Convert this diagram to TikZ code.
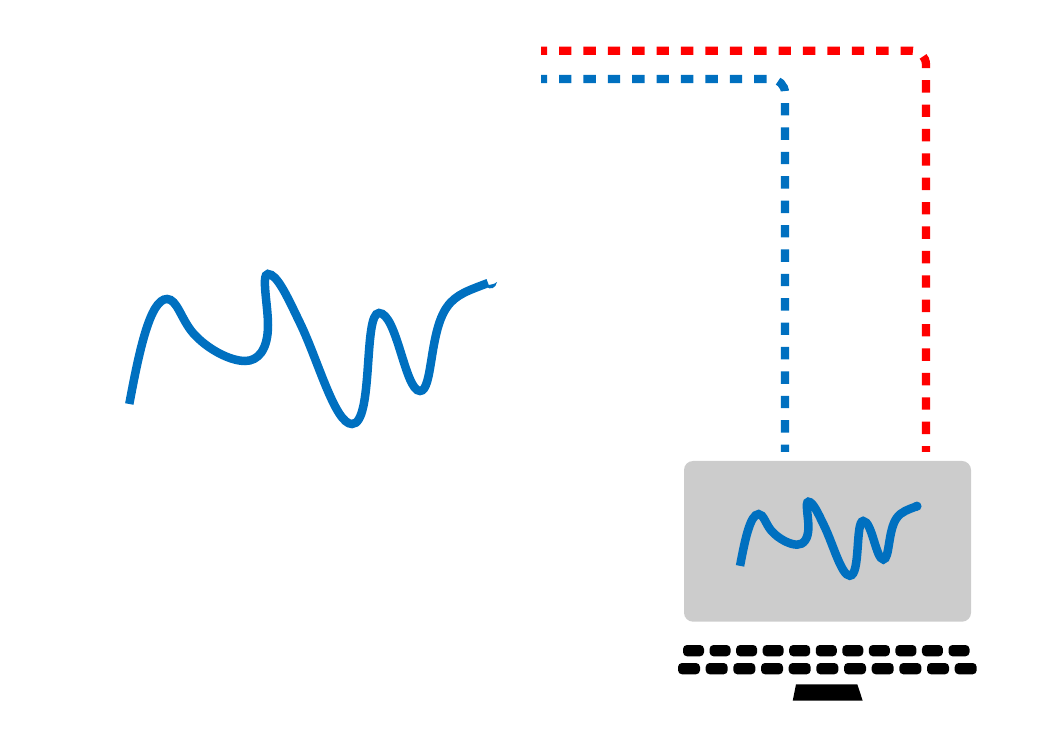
\documentclass[tikz,border=0pt]{standalone}
\definecolor{inkblue}{HTML}{0070C0}
\definecolor{screengray}{HTML}{CCCCCC}
\newcommand{\inkwave}{(129.3,404) .. controls (139,352) and (150,299) .. (167,299) .. controls (177,299) and (181,319) .. (193,333) .. controls (207,349) and (230,361) .. (245,361) .. controls (258,361) and (268,350) .. (268,325) .. controls (268,305) and (261,274) .. (268,274) .. controls (277,274) and (287,296) .. (300,323) .. controls (318,360) and (335,424) .. (352,424) .. controls (374,424) and (363,313) .. (379,313) .. controls (397,313) and (405,391) .. (420,391) .. controls (433,391) and (429,332) .. (447,307) .. controls (456,294) and (470,290) .. (488,283)}
\begin{document}
\begin{tikzpicture}[x=0.02cm,y=-0.02cm,
  wire/.style={line width=0.165cm,dash pattern=on 0.248cm off 0.24cm,dash phase=0.128cm,rounded corners=0.28cm},
  ink/.style={inkblue,line width=0.17cm},
  keycap/.style={fill=black,rounded corners=0.08cm}]
\useasboundingbox (0,0) rectangle (1044,742);
% big stroke
\draw[ink] \inkwave;
\fill[inkblue] (486,286) .. controls (490,284) and (494,285) .. (497,282) .. controls (496,288) and (490,291) .. (486,286);
% wires
\draw[wire,red] (541,50.7) -- (926,50.7) -- (926,452);
\draw[wire,inkblue] (541,79) -- (785,79) -- (785,452);
% screen
\fill[screengray,rounded corners=0.18cm] (684,461) rectangle (971,621.7);
\begin{scope}[shift={(676.3,366.7)},scale=0.493]
\draw[ink] \inkwave;
\fill[inkblue] (488,283) circle (0.19cm);
\end{scope}
% keyboard
\foreach \k in {0,...,10} {
  \fill[keycap] (683+26.55*\k,645) rectangle +(21,11.3);
  \fill[keycap] (678+27.67*\k,663) rectangle +(22,11.3);
}
% stand
\fill[black] (796,684.3) -- (857.3,684.3) -- (862.7,700.7) -- (792.7,700.7) -- cycle;
\end{tikzpicture}
\end{document}
